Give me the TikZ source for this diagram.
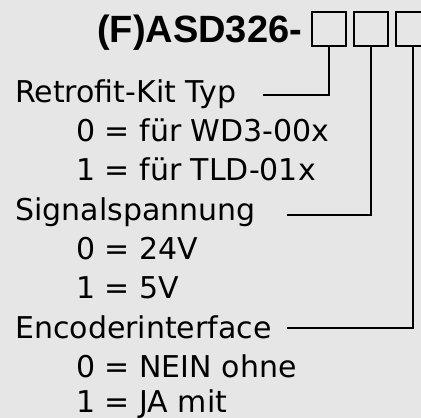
\documentclass[tikz,border=0pt]{standalone}
\usepackage{fontspec}
\setmainfont{DejaVu Sans}
\newfontfamily\titlefont{Liberation Sans}
\definecolor{bg}{RGB}{230,230,230}
\begin{document}
\begin{tikzpicture}[x=1pt,y=-1pt,
  lbl/.style={anchor=base west,inner sep=0pt,font=\fontsize{30}{36}\selectfont},
  digit/.style={draw,line width=2pt,minimum width=34pt,minimum height=34pt,inner sep=0pt},
  conn/.style={line width=2pt}]
\fill[bg] (0,0) rectangle (421,418);
\useasboundingbox (0,0) rectangle (421,418);
\node[anchor=base west,inner sep=0pt,font=\titlefont\fontsize{38}{44}\selectfont\bfseries] (title) at (97,42.5) {(F)ASD326-};
\node[digit] (b1) at (329,29) {};
\node[digit] (b2) at (370.5,29) {};
\node[digit] (b3) at (413,29) {};
\node[lbl] (t1) at (15,102) {Retrofit-Kit Typ};
\node[lbl] (t1a) at (76,141) {0 = für WD3-00x};
\node[lbl] (t1b) at (76,180) {1 = für TLD-01x};
\node[lbl] (t2) at (15,220) {Signalspannung};
\node[lbl] (t2a) at (76,259) {0 = 24V};
\node[lbl] (t2b) at (76,298) {1 = 5V};
\node[lbl] (t3) at (15,338) {Encoderinterface};
\node[lbl] (t3a) at (76,377) {0 = NEIN ohne};
\node[lbl] (t3b) at (76,412) {1 = JA mit};
\coordinate (e1) at (263,95);
\coordinate (e2) at (287,215);
\coordinate (e3) at (287,328);
\draw[conn] (b1.south) |- (e1);
\draw[conn] (b2.south) |- (e2);
\draw[conn] (b3.south) |- (e3);
\end{tikzpicture}
\end{document}
